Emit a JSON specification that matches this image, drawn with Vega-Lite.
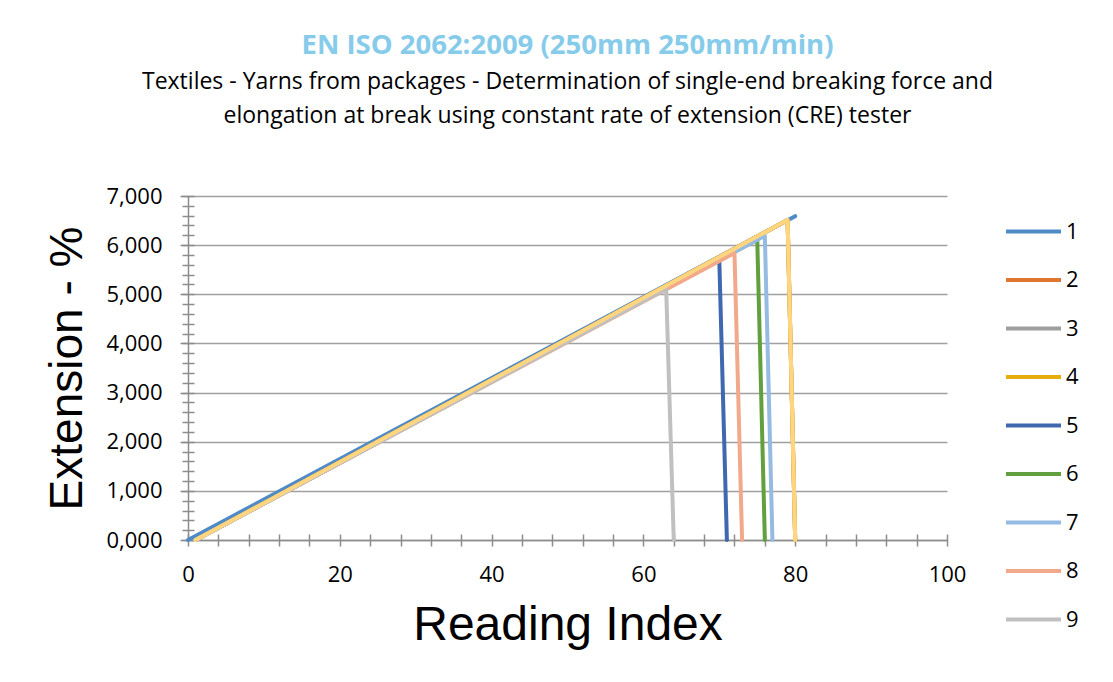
{
  "$schema": "https://vega.github.io/schema/vega-lite/v6.json",
  "width": 759,
  "height": 344,
  "autosize": {"type": "none"},
  "padding": {"left": 188, "top": 196, "right": 166, "bottom": 142},
  "background": "white",
  "config": {"view": {"stroke": null}},
  "title": {
    "text": "EN ISO 2062:2009 (250mm 250mm/min)",
    "subtitle": ["Textiles - Yarns from packages - Determination of single-end breaking force and", "elongation at break using constant rate of extension (CRE) tester"],
    "font": "Open Sans",
    "fontSize": 27.5,
    "fontWeight": "bold",
    "color": "#86CBEA",
    "subtitleFont": "Open Sans",
    "subtitleFontSize": 23,
    "subtitleColor": "#000000",
    "subtitleLineHeight": 34,
    "subtitlePadding": 12,
    "anchor": "middle",
    "offset": 57
  },
  "data": {
    "values": [
      {"s": 1, "i": 0, "v": 0}, {"s": 1, "i": 80, "v": 6.59},
      {"s": 2, "i": 1, "v": 0}, {"s": 2, "i": 79, "v": 6.51}, {"s": 2, "i": 80, "v": 0},
      {"s": 3, "i": 1, "v": 0}, {"s": 3, "i": 79, "v": 6.51}, {"s": 3, "i": 80, "v": 0},
      {"s": 4, "i": 1, "v": 0}, {"s": 4, "i": 79, "v": 6.51}, {"s": 4, "i": 80, "v": 0},
      {"s": 5, "i": 1, "v": 0}, {"s": 5, "i": 70, "v": 5.70}, {"s": 5, "i": 71, "v": 0},
      {"s": 6, "i": 1, "v": 0}, {"s": 6, "i": 75, "v": 6.11}, {"s": 6, "i": 76, "v": 0},
      {"s": 7, "i": 1, "v": 0}, {"s": 7, "i": 76, "v": 6.19}, {"s": 7, "i": 77, "v": 0},
      {"s": 8, "i": 1, "v": 0}, {"s": 8, "i": 72, "v": 5.84}, {"s": 8, "i": 73, "v": 0},
      {"s": 9, "i": 1, "v": 0}, {"s": 9, "i": 63, "v": 5.11}, {"s": 9, "i": 64, "v": 0},
      {"s": 10, "i": 1, "v": 0}, {"s": 10, "i": 79, "v": 6.51}, {"s": 10, "i": 80, "v": 0}
    ]
  },
  "resolve": {"axis": {"x": "independent", "y": "independent"}},
  "layer": [
    {
      "mark": {"type": "line", "strokeOpacity": 0},
      "encoding": {
        "x": {
          "field": "i", "type": "quantitative",
          "scale": {"domain": [0, 100], "nice": false, "zero": false},
          "axis": {"orient": "bottom", "values": [0,4,8,12,16,20,24,28,32,36,40,44,48,52,56,60,64,68,72,76,80,84,88,92,96,100],
                   "offset": -6, "tickSize": 12, "tickColor": "#8c8c8c", "tickWidth": 1.5,
                   "labels": false, "domain": false, "grid": false, "title": null}
        },
        "y": {
          "field": "v", "type": "quantitative",
          "scale": {"domain": [0, 7], "nice": false},
          "axis": {"orient": "left", "values": [0,0.2,0.4,0.6,0.8,1,1.2,1.4,1.6,1.8,2,2.2,2.4,2.6,2.8,3,3.2,3.4,3.6,3.8,4,4.2,4.4,4.6,4.8,5,5.2,5.4,5.6,5.8,6,6.2,6.4,6.6,6.8,7],
                   "offset": -6, "tickSize": 12, "tickColor": "#8c8c8c", "tickWidth": 1.5,
                   "labels": false, "domain": false, "grid": false, "title": null}
        },
        "detail": {"field": "s", "type": "nominal"}
      }
    },
    {
      "mark": {"type": "line", "strokeWidth": 4, "strokeCap": "round", "strokeJoin": "round"},
      "encoding": {
        "x": {
          "field": "i", "type": "quantitative",
          "scale": {"domain": [0, 100], "nice": false, "zero": false},
          "axis": {"orient": "bottom", "values": [0, 20, 40, 60, 80, 100], "ticks": false,
                   "labelFlush": false, "labelOverlap": false,
                   "domainColor": "#8c8c8c", "domainWidth": 1.5, "grid": false,
                   "labelFont": "Open Sans", "labelFontSize": 22, "labelColor": "#000000", "labelPadding": 24,
                   "title": "Reading Index", "titleFont": "Liberation Sans", "titleFontSize": 48,
                   "titleFontWeight": "normal", "titleColor": "#000000", "titlePadding": 16}
        },
        "y": {
          "field": "v", "type": "quantitative",
          "scale": {"domain": [0, 7], "nice": false},
          "axis": {"orient": "left", "values": [0, 1, 2, 3, 4, 5, 6, 7],
                   "labelExpr": "replace(format(datum.value, '.3f'), '.', ',')",
                   "labelFlush": false, "labelOverlap": false,
                   "tickSize": 8, "tickColor": "#8c8c8c", "tickWidth": 1.5,
                   "domainColor": "#8c8c8c", "domainWidth": 1.5,
                   "grid": true, "gridColor": "#a0a0a0", "gridWidth": 1.5,
                   "labelFont": "Open Sans", "labelFontSize": 22, "labelColor": "#000000", "labelPadding": 18,
                   "title": "Extension - %", "titleFont": "Liberation Sans", "titleFontSize": 46,
                   "titleFontWeight": "normal", "titleColor": "#000000", "titlePadding": 14}
        },
        "color": {
          "field": "s", "type": "nominal",
          "scale": {"domain": [1, 2, 3, 4, 5, 6, 7, 8, 9, 10],
                    "range": ["#4E8BC8", "#E07630", "#9E9E9E", "#E6AD0C", "#3F68B0", "#62A03F", "#96BBE3", "#F2A88A", "#C0C0C0", "#FFD580"]},
          "legend": {
            "values": [1, 2, 3, 4, 5, 6, 7, 8, 9],
            "title": null,
            "orient": "none",
            "legendX": 816,
            "legendY": 6,
            "symbolType": "stroke",
            "symbolSize": 3025,
            "symbolStrokeWidth": 4,
            "rowPadding": 7.5,
            "labelFont": "Open Sans",
            "labelFontSize": 22,
            "labelColor": "#000000",
            "labelOffset": 3
          }
        }
      }
    }
  ]
}
